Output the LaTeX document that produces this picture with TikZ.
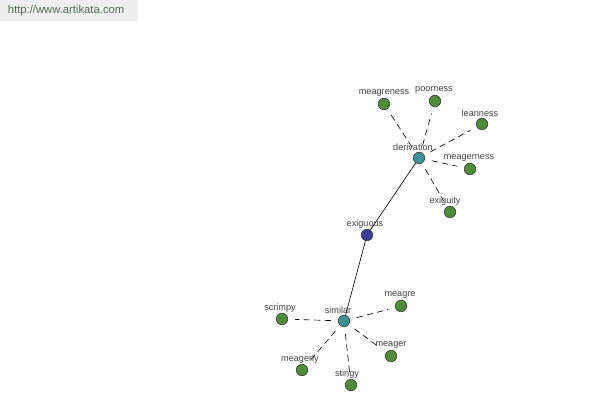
\documentclass[tikz,border=0pt]{standalone}
\usepackage{fontspec}
\setmainfont{Liberation Sans}
\definecolor{leafgreen}{HTML}{4E8C3A}
\definecolor{hubteal}{HTML}{3F9096}
\definecolor{rootblue}{HTML}{3C3F96}
\definecolor{bannergray}{HTML}{EEEEEE}
\definecolor{bannertext}{HTML}{4F6B4F}

\begin{document}
\begin{tikzpicture}[x=0.025cm, y=-0.025cm, every node/.style={font=\fontsize{6.5}{7}\selectfont, text=black!75}]
\tikzset{word/.style={circle, draw=black!80, line width=0.4pt, inner sep=0pt, minimum size=8.2pt},
  leaf/.style={word, fill=leafgreen},
  hub/.style={word, fill=hubteal},
  root/.style={word, fill=rootblue},
  syn/.style={dashed, dash pattern=on 4.5pt off 3pt, shorten <=5pt, shorten >=5pt, line width=0.45pt},
  rel/.style={line width=0.45pt}}
% frame
\useasboundingbox (0,0) rectangle (600,400);
\fill[bannergray] (0,0) rectangle (138,21);
\node[anchor=west, font=\fontsize{8}{9}\selectfont, text=bannertext] (site) at (3,11) {http://www.artikata.com};
% centre words
\node[root] (exiguous) at (367,235) {};
\node[hub] (derivation) at (419,158) {};
\node[hub] (similar) at (344,321) {};
% derivation side
\node[leaf] (meagreness) at (384,104) {};
\node[leaf] (poorness) at (435,101) {};
\node[leaf] (leanness) at (482,124) {};
\node[leaf] (meagerness) at (470,169) {};
\node[leaf] (exiguity) at (450,212) {};
% similar side
\node[leaf] (scrimpy) at (282,319) {};
\node[leaf] (meagre) at (401,306) {};
\node[leaf] (meager) at (391,356) {};
\node[leaf] (meagerly) at (302,370) {};
\node[leaf] (stingy) at (351,385) {};
% links
\draw[rel] (exiguous) -- (derivation);
\draw[rel] (exiguous) -- (similar);
\foreach \w in {meagreness,poorness,leanness,meagerness,exiguity}
  \draw[syn] (derivation) -- (\w);
\foreach \w in {scrimpy,meagre,meager,meagerly,stingy}
  \draw[syn] (similar) -- (\w);
% labels
\node (lexiguous) at (365,224) {exiguous};
\node (lderivation) at (413,147) {derivation};
\node (lsimilar) at (338,310) {similar};
\node (lmeagreness) at (384,93) {meagreness};
\node (lpoorness) at (434,90) {poorness};
\node (lleanness) at (480,113) {leanness};
\node (lmeagerness) at (469,158) {meagerness};
\node (lexiguity) at (445,201) {exiguity};
\node (lscrimpy) at (280,308) {scrimpy};
\node (lmeagre) at (400,295) {meagre};
\node (lmeager) at (391,345) {meager};
\node (lmeagerly) at (300,359) {meagerly};
\node (lstingy) at (347,374) {stingy};
\end{tikzpicture}
\end{document}
